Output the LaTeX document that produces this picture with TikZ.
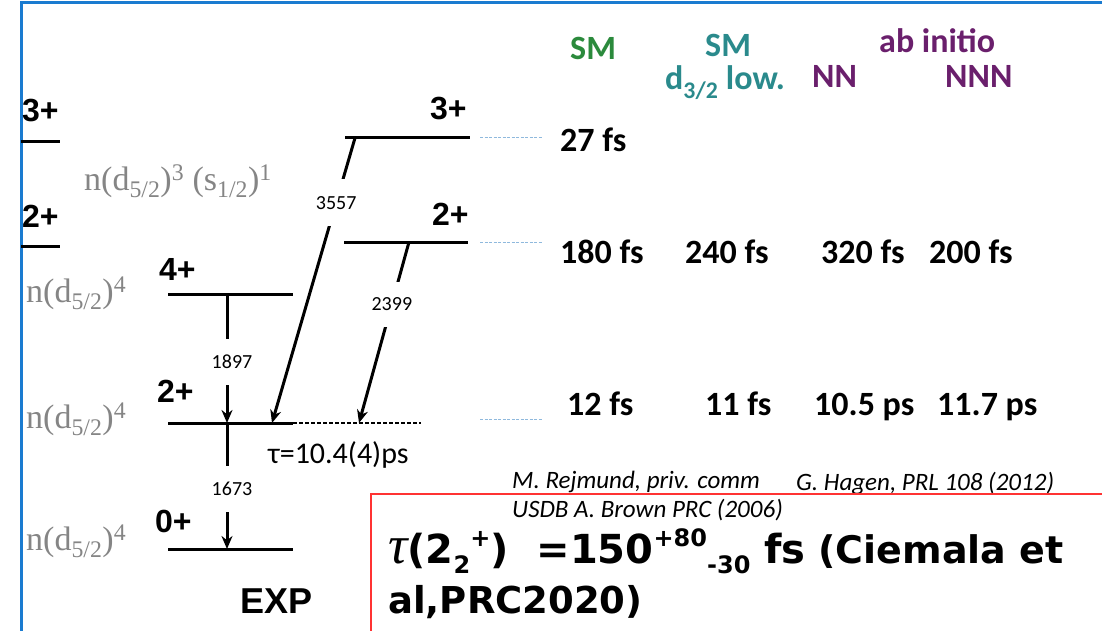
\documentclass[tikz,border=0pt]{standalone}
\usepackage{fontspec}
\setmainfont{Liberation Serif}
\newfontfamily\arialfont{Liberation Sans}
\newfontfamily\calfont{Carlito}
\newfontfamily\dvfont{DejaVu Sans}
\usetikzlibrary{arrows.meta}
\definecolor{framex}{HTML}{1A7BD0}
\definecolor{boxred}{HTML}{FF3333}
\definecolor{greyx}{HTML}{858585}
\definecolor{smgreen}{HTML}{2B8A3C}
\definecolor{smteal}{HTML}{2A8A8C}
\definecolor{abpurple}{HTML}{6A1F6C}
\definecolor{dashblue}{HTML}{8FB9DD}
\newcommand{\supx}[1]{\raisebox{0.42em}{\fontsize{24}{24}\selectfont #1}}
\newcommand{\subx}[1]{\raisebox{-0.25em}{\fontsize{24}{24}\selectfont #1}}
\tikzset{
  lvl/.style={line width=3pt,black},
  tr/.style={-{Stealth[length=13pt,width=11pt]},line width=3pt,black},
  spin/.style={font=\arialfont\bfseries\fontsize{32}{32}\selectfont,inner sep=0pt,anchor=base west},
  conf/.style={text=greyx,font=\fontsize{34}{34}\selectfont,inner sep=0pt,anchor=base west},
  egam/.style={font=\calfont\fontsize{20}{20}\selectfont,fill=white,inner xsep=2pt,inner ysep=16pt},
  life/.style={font=\calfont\bfseries\fontsize{34}{34}\selectfont,inner sep=0pt,anchor=base west},
  head/.style={font=\calfont\bfseries\fontsize{34}{34}\selectfont,inner sep=0pt,anchor=base west},
  refx/.style={font=\calfont\itshape\fontsize{25}{25}\selectfont,inner sep=0pt,anchor=base west},
  guide/.style={dashblue,line width=1pt,dash pattern=on 3pt off 1.5pt},
  result/.style={font=\dvfont\bfseries\fontsize{37}{37}\selectfont,inner sep=0pt,anchor=base west}
}

\begin{document}
\begin{tikzpicture}[x=1pt,y=-1pt]
\useasboundingbox (0,0) rectangle (1102,631);
% frame
\draw[framex,line width=3pt] (21,631) -- (21,3) -- (1102,3);

% left column
\draw[lvl] (21,142) coordinate (a3l) -- (60,142) coordinate (a3r);
\draw[lvl] (21,246) coordinate (a2l) -- (60,246) coordinate (a2r);
\node[spin] (a3) at (22,122) {3+};
\node[spin] (a2) at (22,227) {2+};
\node[conf] (c1) at (84,190) {n(d\textsubscript{5/2})\textsuperscript{3} (s\textsubscript{1/2})\textsuperscript{1}};
\node[conf] (c2) at (26,302) {n(d\textsubscript{5/2})\textsuperscript{4}};
\node[conf] (c3) at (26,428) {n(d\textsubscript{5/2})\textsuperscript{4}};
\node[conf] (c4) at (26,550) {n(d\textsubscript{5/2})\textsuperscript{4}};

% EXP levels
\draw[lvl] (168,294) coordinate (e4l) -- (293,294) coordinate (e4r);
\draw[lvl] (168,423) coordinate (e2l) -- (293,423) coordinate (e2r);
\draw[lvl] (168,549) coordinate (e0l) -- (293,549) coordinate (e0r);
\draw[black,line width=1.2pt,dash pattern=on 4pt off 2pt] (e2r) -- (421,423) coordinate (e2d);
\node[spin] (e4) at (159,280) {4+};
\node[spin] (e2) at (157,402) {2+};
\node[spin] (e0) at (155,532) {0+};
\node[spin,font=\arialfont\bfseries\fontsize{36}{36}\selectfont] (exp) at (240,613) {EXP};

% upper levels
\draw[lvl] (345,138) coordinate (u3l) -- (470,138) coordinate (u3r);
\draw[lvl] (344,242) coordinate (u2l) -- (468,242) coordinate (u2r);
\node[spin] (u3) at (430,120) {3+};
\node[spin] (u2) at (432,225) {2+};

% transitions
\coordinate (g1s) at (227,294);
\coordinate (g1e) at (227,423);
\coordinate (g2e) at (227,549);
\coordinate (g3s) at (355,138);
\coordinate (g3e) at (272,423);
\coordinate (g4s) at (409,242);
\coordinate (g4e) at (359,423);
\draw[tr] (g1s) -- node[egam,pos=0.527,xshift=5pt] (n1897) {1897} (g1e);
\draw[tr] (g1e) -- node[egam,pos=0.524,xshift=5pt] (n1673) {1673} (g2e);
\draw[tr] (g3s) -- node[egam,pos=0.227,inner ysep=17pt] (n3557) {3557} (g3e);
\draw[tr] (g4s) -- node[egam,pos=0.343] (n2399) {2399} (g4e);
\node[font=\calfont\fontsize{30}{30}\selectfont,inner sep=0pt,anchor=base west] (tau) at (268,463) {τ=10.4(4)ps};

% guide dashes
\draw[guide] (480,138) -- (542,138);
\draw[guide] (480,242) -- (542,242);
\draw[guide] (480,419) -- (542,419);

% theory headers
\node[head,text=smgreen] (hsm) at (570,60) {SM};
\node[head,text=smteal] (hsd) at (705,57) {SM};
\node[head,text=smteal] (hsdb) at (665,90) {d\textsubscript{3/2} low.};
\node[head,text=abpurple] (hab) at (879,53) {ab initio};
\node[head,text=abpurple] (hnn) at (812,88) {NN};
\node[head,text=abpurple] (hnnn) at (945,88) {NNN};

% lifetimes
\node[life] (t3a) at (560,152) {27 fs};
\node[life] (t2a) at (560,263) {180 fs};
\node[life] (t2b) at (685,263) {240 fs};
\node[life] (t2c) at (821,263) {320 fs};
\node[life] (t2d) at (929,263) {200 fs};
\node[life] (t1a) at (567,415) {12 fs};
\node[life] (t1b) at (705,415) {11 fs};
\node[life] (t1c) at (814,415) {10.5 ps};
\node[life] (t1d) at (937,415) {11.7 ps};

% references
\node[refx] (r1) at (512,488) {M. Rejmund, priv. comm};
\node[refx] (r2) at (796,490) {G. Hagen, PRL 108 (2012)};
\node[refx] (r3) at (512,517) {USDB A. Brown PRC (2006)};

% result box
\draw[boxred,line width=1.5pt] (371,631) -- (371,494) -- (1102,494);
\node[result] (res1) at (388,563)
  {{\fontsize{54}{54}\selectfont\rmfamily\mdseries\itshape τ}{\fontsize{40}{40}\selectfont(2\subx{2}\supx{+})\ \ =150\supx{+80}\subx{-30} fs} {\fontsize{38}{38}\selectfont(Ciemala et}};
\node[result] (res2) at (388,613) {al,PRC2020)};
\end{tikzpicture}
\end{document}
